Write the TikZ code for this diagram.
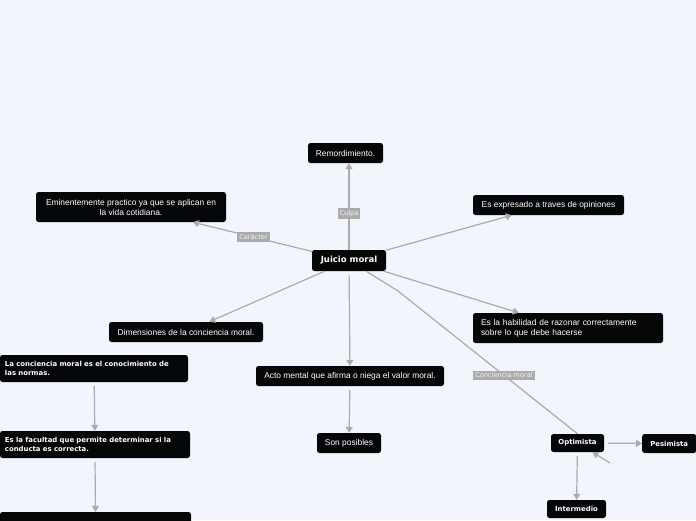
\documentclass[tikz,border=0pt]{standalone}
\usepackage{fontspec}
\setmainfont{Liberation Sans}
\newfontfamily\vsans{DejaVu Sans}
\usetikzlibrary{arrows.meta}
\definecolor{fondo}{HTML}{F3F5FD}
\definecolor{negro}{HTML}{050608}
\definecolor{gris}{HTML}{ABABAB}
\tikzset{
  caja/.style={fill=negro, text=white, rounded corners=2.5pt, inner sep=0pt,
    font=\fontsize{8.4}{10}\selectfont, align=center},
  cajab/.style={caja, font=\vsans\bfseries\fontsize{6.9}{8.5}\selectfont},
  flecha/.style={draw=gris, line width=1.2pt, -{Triangle[length=6pt,width=7pt]}},
  flechav/.style={flecha, shorten <=4pt},
  linea/.style={draw=gris, line width=1.2pt},
  etiqueta/.style={fill=gris, text=white!90!gris, inner sep=2pt,
    font=\vsans\fontsize{6.6}{7}\selectfont}
}
\begin{document}
\begin{tikzpicture}[x=1pt,y=-1pt]
\fill[fondo] (0,0) rectangle (696,520);
\useasboundingbox (0,0) rectangle (696,520);

% centro
\node[caja, font=\vsans\bfseries\fontsize{8.5}{10}\selectfont, minimum width=74pt, minimum height=21pt] (juicio) at (349,260.5) {Juicio moral};

% ramas
\node[caja, minimum width=75pt, minimum height=20pt] (remord) at (345.5,153) {Remordimiento.};
\node[caja, minimum width=190pt, minimum height=30pt] (emin) at (131,207) {Eminentemente practico ya que se aplican en\\la vida cotidiana.};
\node[caja, minimum width=151pt, minimum height=20pt] (expres) at (548.5,205) {Es expresado a traves de opiniones};
\node[caja, align=left, text width=174pt, minimum width=190pt, minimum height=30pt] (habil) at (568,328) {Es la habilidad de razonar correctamente\\sobre lo que debe hacerse};
\node[caja, minimum width=154pt, minimum height=20pt] (dimen) at (186,332) {Dimensiones de la conciencia moral.};
\node[caja, minimum width=188pt, minimum height=20pt] (acto) at (350,376) {Acto mental que afirma o niega el valor moral.};
\node[caja, minimum width=64pt, minimum height=20pt] (son) at (349,443) {Son posibles};

% izquierda
\node[cajab, align=left, text width=178pt, minimum width=188pt, minimum height=27pt] (concien) at (94,368.5) {La conciencia moral es el conocimiento de\\las normas.};
\node[cajab, align=left, text width=180pt, minimum width=190pt, minimum height=27pt] (facul) at (95,444.5) {Es la facultad que permite determinar si la\\conducta es correcta.};
\node[cajab, minimum width=191pt, minimum height=28pt] (ultima) at (95.5,526) {};

% derecha abajo
\node[cajab, minimum width=53pt, minimum height=18pt] (optim) at (577.5,443) {Optimista};
\node[cajab, minimum width=54pt, minimum height=19pt, anchor=west] (pesim) at (642,443.5) {Pesimista};
\node[cajab, minimum width=59pt, minimum height=18pt] (inter) at (576.5,509) {Intermedio};
\coordinate (codo) at (398,291);
\coordinate (suelto) at (610,463);

% conectores
\draw[flecha] (juicio.north) -- node[etiqueta, pos=0.42] {Culpa} (juicio.north |- remord.south);
\draw[flecha] (juicio) -- node[etiqueta, pos=0.49] {Carácter} (emin);
\draw[flecha] (juicio) -- (expres);
\draw[flecha] (juicio) -- (habil);
\draw[flecha] (juicio) -- (dimen);
\draw[flechav] (juicio) -- (acto);
\draw[flechav] (acto) -- (son);
\draw[linea] (juicio) -- (codo) -- node[etiqueta, pos=0.59] {Conciencia moral} (optim.north);
\draw[flechav] (optim) -- (pesim);
\draw[flechav] (optim) -- (inter);
\draw[flecha] (suelto) -- (optim);
\draw[flechav] (concien) -- (facul);
\draw[flechav] (facul.south) -- (ultima.north);
\end{tikzpicture}
\end{document}
